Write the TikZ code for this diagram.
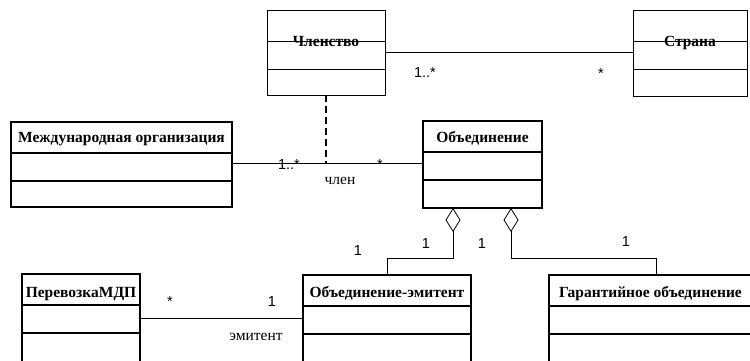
\documentclass[tikz,border=0pt]{standalone}
\usepackage{fontspec}
\setmainfont{Liberation Serif}
\newfontfamily\labelfont{Liberation Sans}
\usepackage{tikz}
\usetikzlibrary{positioning,calc,arrows.meta}

\tikzset{
  umlbox/.style={draw, rectangle, anchor=north west, inner sep=0pt, outer sep=0pt},
  thinbox/.style={umlbox, line width=0.9pt},
  thickbox/.style={umlbox, line width=1.8pt},
  clsname/.style={anchor=base, inner sep=0pt, font=\fontsize{15.5}{18}\selectfont\bfseries},
  mult/.style={anchor=base, inner sep=0pt, font=\labelfont\fontsize{14.5}{17}\selectfont},
  role/.style={anchor=base, inner sep=0pt, font=\fontsize{15.5}{18}\selectfont},
  assoc/.style={line width=0.8pt},
  aggr/.style={line width=0.8pt, {Diamond[open,length=24pt,width=15pt]}-},
  link/.style={line width=1.8pt, dash pattern=on 7pt off 4pt},
}

\begin{document}
\begin{tikzpicture}[x=1pt, y=-1pt]
  \useasboundingbox (0,0) rectangle (750,360);
  \clip (0,0) rectangle (750,360);

  % classes
  \node[thinbox, minimum width=118pt, minimum height=85pt] (chl) at (267,10) {};
  \node[thinbox, minimum width=114pt, minimum height=86pt] (strana) at (633,10) {};
  \node[thickbox, minimum width=221pt, minimum height=85pt] (mo) at (11,122) {};
  \node[thickbox, minimum width=119pt, minimum height=87pt] (obj) at (423,121) {};
  \node[thickbox, minimum width=168pt, minimum height=100pt] (emit) at (303,275) {};
  \node[thickbox, minimum width=215pt, minimum height=100pt] (gar) at (549,275) {};
  \node[thickbox, minimum width=118pt, minimum height=100pt] (mdp) at (22,274) {};

  \foreach \n/\lw in {chl/0.9pt,strana/0.9pt,mo/1.8pt,obj/1.8pt,emit/1.8pt,gar/1.8pt,mdp/1.8pt}
    \foreach \d in {31pt,59pt}
      \draw[line width=\lw] ([yshift=-\d]\n.north west) -- ([yshift=-\d]\n.north east);

  % class names
  \node[clsname] at ([yshift=-36pt]chl.north) {Членство};
  \node[clsname] at ([yshift=-36pt]strana.north) {Страна};
  \node[clsname] at ([yshift=-20pt]mo.north) {Международная организация};
  \node[clsname] at ([yshift=-21pt]obj.north) {Объединение};
  \node[clsname] at ([yshift=-22pt]emit.north) {Объединение-эмитент};
  \node[clsname, anchor=base west] at ([xshift=10pt,yshift=-22pt]gar.north west) {Гарантийное объединение};
  \node[clsname] at ([yshift=-23pt]mdp.north) {ПеревозкаМДП};

  % associations
  \coordinate (moR) at ([yshift=-41pt]mo.north east);
  \draw[assoc] ([yshift=-42pt]chl.north east) -- ([yshift=-42pt]strana.north west);
  \draw[assoc] (moR) -- ([yshift=-42pt]obj.north west);
  \draw[link] (chl.south) -- (chl.south |- moR);
  \draw[assoc] ([yshift=-44pt]mdp.north east) -- ([yshift=-43pt]emit.north west);
  \draw[aggr] ([xshift=-29.5pt]obj.south) -- ++(0,50) -| (emit.north);
  \draw[aggr] ([xshift=28.5pt]obj.south) -- ++(0,50) -| (gar.north);

  % multiplicities and roles
  \node[mult] at (425,77) {1..*};
  \node[mult] at (601,78) {*};
  \node[mult] at (289,169) {1..*};
  \node[mult] at (380,169) {*};
  \node[role] at (340,184) {член};
  \node[mult] at (358,255) {1};
  \node[mult] at (426,248) {1};
  \node[mult] at (482,248) {1};
  \node[mult] at (626,246) {1};
  \node[mult] at (170,306) {*};
  \node[mult] at (272,306) {1};
  \node[role] at (256,340) {эмитент};
\end{tikzpicture}
\end{document}
